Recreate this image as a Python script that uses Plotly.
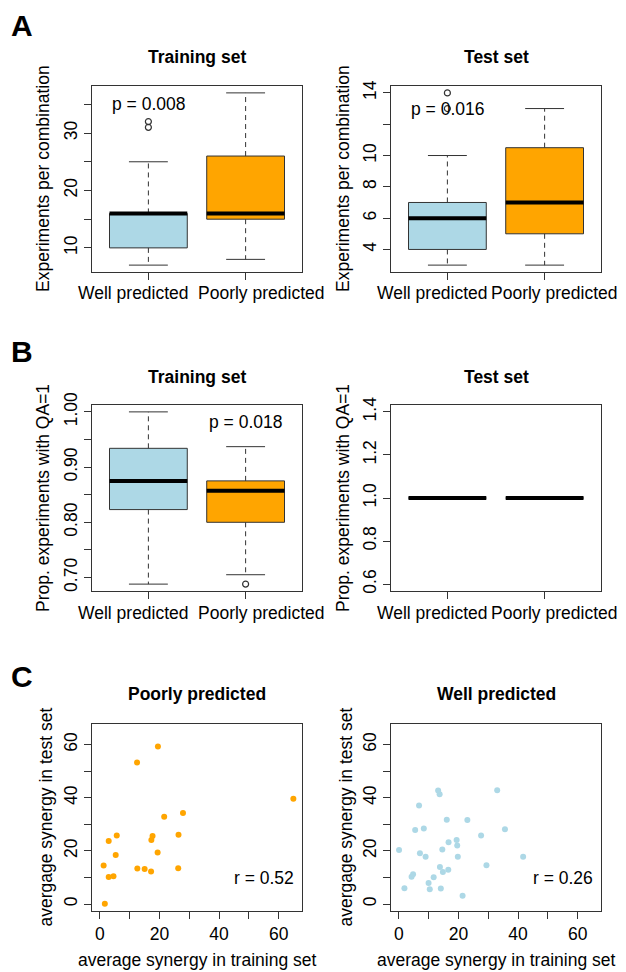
import numpy as np
import plotly.graph_objects as go

FONT = "Liberation Sans, Arial, Helvetica, sans-serif"
W, H = 626, 972
OFF = 8  # default page body margin: page pixel = figure pixel + OFF
FS = 17.5
LINE = "#333333"

# ---------------- data ----------------
groups = ["Well predicted", "Poorly predicted"]
box_colors = ["#ADD8E6", "#FFA500"]

# Panel A, training set: experiments per combination
a_train_lower = [7, 8]
a_train_q1 = [10, 15]
a_train_median = [16, 16]
a_train_q3 = [16, 26]
a_train_upper = [25, 37]
a_train_outliers = [[31, 32], []]

# Panel A, test set
a_test_lower = [3, 3]
a_test_q1 = [4, 5]
a_test_median = [6, 7]
a_test_q3 = [7, 10.5]
a_test_upper = [10, 13]
a_test_outliers = [[13, 14], []]

# Panel B, training set: proportion of experiments with QA=1
b_train_lower = [0.688, 0.705]
b_train_q1 = [0.823, 0.800]
b_train_median = [0.875, 0.857]
b_train_q3 = [0.934, 0.875]
b_train_upper = [1.000, 0.937]
b_train_outliers = [[], [0.688]]

# Panel B, test set
b_test_lower = [1.0, 1.0]
b_test_q1 = [1.0, 1.0]
b_test_median = [1.0, 1.0]
b_test_q3 = [1.0, 1.0]
b_test_upper = [1.0, 1.0]
b_test_outliers = [[], []]

# Panel C: average synergy, poorly predicted
poor_train_syn = [19.5, 12.5, 64.9, 27.9, 21.6, 5.7, 3.0, 17.7, 17.3, 26.4,
                  5.35, 19.4, 1.3, 12.6, 15.05, 17.2, 26.3, 3.0, 4.6, 1.7]
poor_test_syn = [59.3, 53.3, 39.7, 34.3, 32.9, 25.8, 23.8, 25.6, 24.1, 26.1,
                 18.5, 19.4, 14.5, 13.4, 13.2, 12.3, 13.5, 10.2, 10.5, 0.1]

# Panel C: average synergy, well predicted
well_train_syn = [0.1, 1.9, 4.3, 4.8, 5.5, 6.8, 7.1, 8.4, 9.0, 10.0,
                  10.4, 11.7, 13.2, 13.7, 13.8, 14.1, 14.6, 14.8, 16.1, 16.7,
                  16.6, 19.4, 19.6, 19.8, 21.4, 23.0, 27.6, 29.4, 33.0, 35.6, 41.7]
well_test_syn = [20.4, 6.0, 10.3, 11.2, 27.9, 37.1, 19.1, 28.5, 17.8, 7.9,
                 5.6, 10.1, 42.8, 41.4, 14.0, 5.9, 20.6, 12.1, 31.8, 23.3,
                 12.9, 24.1, 22.1, 17.8, 3.1, 31.7, 25.8, 14.6, 42.9, 28.2, 17.8]

p_texts = ["p = 0.008", "p = 0.016", "p = 0.018"]
r_texts = ["r = 0.52", "r = 0.26"]

# ---------------- layout helpers (page pixel -> paper) ----------------
cols = [(92, 302), (391, 601)]
rows = [(86, 272), (405, 591), (724, 911)]


def fx(px):
    return (px - OFF) / W


def fy(py):
    return 1 - (py - OFF) / H


def dx(a, b):
    return [fx(a), fx(b)]


def dy(top, bottom):
    return [fy(bottom), fy(top)]


def r_range(lo, hi):
    if hi == lo:
        lo, hi = lo - 0.4 * abs(lo), hi + 0.4 * abs(hi)
    ext = (hi - lo) * 0.04
    return [lo - ext, hi + ext]


fig = go.Figure()


def axname(k):
    return ("x" if k == 1 else f"x{k}"), ("y" if k == 1 else f"y{k}")


def add_boxes(k, lower, q1, med, q3, upper, outliers):
    xa, ya = axname(k)
    pos = np.arange(1, len(groups) + 1)
    q1a, q3a = np.array(q1, float), np.array(q3, float)
    fig.add_trace(go.Bar(x=pos, y=q3a - q1a, base=q1a, width=0.8,
                         marker=dict(color=box_colors, line=dict(color=LINE, width=1)),
                         xaxis=xa, yaxis=ya, showlegend=False, hoverinfo="skip"))
    for i, p in enumerate(pos):
        fig.add_trace(go.Scatter(x=[p, p, None, p, p], y=[q3[i], upper[i], None, q1[i], lower[i]],
                                 mode="lines", line=dict(color=LINE, width=1, dash="5px,4px"),
                                 xaxis=xa, yaxis=ya, showlegend=False, hoverinfo="skip"))
        fig.add_trace(go.Scatter(x=[p - 0.2, p + 0.2, None, p - 0.2, p + 0.2],
                                 y=[upper[i], upper[i], None, lower[i], lower[i]],
                                 mode="lines", line=dict(color=LINE, width=1),
                                 xaxis=xa, yaxis=ya, showlegend=False, hoverinfo="skip"))
        fig.add_trace(go.Scatter(x=[p - 0.4, p + 0.4], y=[med[i], med[i]],
                                 mode="lines", line=dict(color="black", width=4),
                                 xaxis=xa, yaxis=ya, showlegend=False, hoverinfo="skip"))
        if outliers[i]:
            fig.add_trace(go.Scatter(x=[p] * len(outliers[i]), y=outliers[i], mode="markers",
                                     marker=dict(symbol="circle-open", size=6,
                                                 color=LINE, line=dict(width=1.2)),
                                     xaxis=xa, yaxis=ya, showlegend=False, hoverinfo="skip"))


def all_vals(lower, upper, outliers):
    v = list(lower) + list(upper)
    for o in outliers:
        v += list(o)
    return min(v), max(v)


add_boxes(1, a_train_lower, a_train_q1, a_train_median, a_train_q3, a_train_upper, a_train_outliers)
add_boxes(2, a_test_lower, a_test_q1, a_test_median, a_test_q3, a_test_upper, a_test_outliers)
add_boxes(3, b_train_lower, b_train_q1, b_train_median, b_train_q3, b_train_upper, b_train_outliers)
add_boxes(4, b_test_lower, b_test_q1, b_test_median, b_test_q3, b_test_upper, b_test_outliers)

fig.add_trace(go.Scatter(x=poor_train_syn, y=poor_test_syn, mode="markers",
                         marker=dict(color="#FFA500", size=6), xaxis="x5", yaxis="y5",
                         showlegend=False))
fig.add_trace(go.Scatter(x=well_train_syn, y=well_test_syn, mode="markers",
                         marker=dict(color="#ADD8E6", size=6), xaxis="x6", yaxis="y6",
                         showlegend=False))

tickfont = dict(family=FONT, size=FS, color="black")
common = dict(showline=True, mirror=True, linecolor=LINE, linewidth=1, ticks="outside",
              ticklen=7, tickcolor=LINE, tickfont=tickfont, showgrid=False,
              zeroline=False, fixedrange=True, automargin=False)

box_x = dict(range=r_range(0.5, 2.5), tickmode="array", tickvals=[1, 2],
             showticklabels=False, **common)
c_ticks = [0, 10, 20, 30, 40, 50, 60]
c_text = ["0", "", "20", "", "40", "", "60"]
c_range = [-2.6, 67.8]

yconf = {
    1: dict(range=r_range(*all_vals(a_train_lower, a_train_upper, a_train_outliers)),
            tickvals=[10, 15, 20, 25, 30, 35], ticktext=["10", "", "20", "", "30", ""]),
    2: dict(range=r_range(*all_vals(a_test_lower, a_test_upper, a_test_outliers)),
            tickvals=[4, 6, 8, 10, 12, 14], ticktext=["4", "6", "8", "10", "", "14"]),
    3: dict(range=r_range(*all_vals(b_train_lower, b_train_upper, b_train_outliers)),
            tickvals=[0.70, 0.75, 0.80, 0.85, 0.90, 0.95, 1.00],
            ticktext=["0.70", "", "0.80", "", "0.90", "", "1.00"]),
    4: dict(range=r_range(*all_vals(b_test_lower, b_test_upper, b_test_outliers)),
            tickvals=[0.6, 0.8, 1.0, 1.2, 1.4], ticktext=["0.6", "0.8", "1.0", "1.2", "1.4"]),
    5: dict(range=c_range, tickvals=c_ticks, ticktext=c_text),
    6: dict(range=c_range, tickvals=c_ticks, ticktext=c_text),
}

layout = dict(width=W, height=H, margin=dict(l=0, r=0, t=0, b=0), autosize=False,
              paper_bgcolor="white", plot_bgcolor="white", showlegend=False,
              font=dict(family=FONT, size=FS, color="black"), barmode="overlay")

for k in range(1, 7):
    r = (k - 1) // 2
    c = (k - 1) % 2
    xkey = "xaxis" if k == 1 else f"xaxis{k}"
    ykey = "yaxis" if k == 1 else f"yaxis{k}"
    xa, ya = axname(k)
    if k <= 4:
        xd = dict(box_x)
    else:
        xd = dict(range=c_range, tickmode="array", tickvals=c_ticks, ticktext=c_text,
                  tickangle=0, **common)
    xd.update(domain=dx(*cols[c]), anchor=ya)
    yd = dict(tickmode="array", tickangle=-90, **common)
    yd.update(yconf[k])
    yd.update(domain=dy(*rows[r]), anchor=xa)
    layout[xkey] = xd
    layout[ykey] = yd

fig.update_layout(**layout)

ann = []


def pann(text, px, py, size=FS, angle=0, bold=False):
    ann.append(dict(text=f"<b>{text}</b>" if bold else text, x=fx(px), y=fy(py),
                    xref="paper", yref="paper", showarrow=False, textangle=angle,
                    xanchor="center", yanchor="middle",
                    font=dict(family=FONT, size=size, color="black")))


# panel letters
pann("A", 21.5, 26, size=30, bold=True)
pann("B", 21.5, 351.5, size=30, bold=True)
pann("C", 21.5, 676, size=30, bold=True)

# subplot titles
titles = [["Training set", "Test set"], ["Training set", "Test set"],
          ["Poorly predicted", "Well predicted"]]
title_y = [57, 376.7, 694.3]
for r in range(3):
    for c in range(2):
        pann(titles[r][c], (cols[c][0] + cols[c][1]) / 2, title_y[r], bold=True)

# y-axis titles
ytitles = ["Experiments per combination", "Prop. experiments with QA=1",
           "avergage synergy in test set"]
for r in range(3):
    for c in range(2):
        xpos = (43 if c == 0 else 343) + (2 if r == 2 else 0)
        pann(ytitles[r], xpos, (rows[r][0] + rows[r][1]) / 2, angle=-90)

# x-axis titles for panel C
for c in range(2):
    pann("average synergy in training set", (cols[c][0] + cols[c][1]) / 2, 960)

# category labels under the box plots (offset like the original)
label_y = [292.7, 612.7]
for k in range(1, 5):
    xa, ya = axname(k)
    r = (k - 1) // 2
    right_panel = (k % 2 == 0)
    shifts = [-15, 9 if right_panel else 15]
    for i, g in enumerate(groups):
        ann.append(dict(text=g, x=i + 1, y=fy(label_y[r]), xref=xa, yref="paper",
                        xshift=shifts[i], showarrow=False, xanchor="center",
                        yanchor="middle", font=dict(family=FONT, size=FS, color="black")))

# statistics text in data coordinates
stat_pos = [(1, 35), (1, 13), (2, 0.982)]
for k, (t, (sx, sy)) in enumerate(zip(p_texts, stat_pos), start=1):
    xa, ya = axname(k)
    ann.append(dict(text=t, x=sx, y=sy, xref=xa, yref=ya, showarrow=False,
                    xanchor="center", yanchor="middle",
                    font=dict(family=FONT, size=FS, color="black")))
for k, t in zip([5, 6], r_texts):
    xa, ya = axname(k)
    ann.append(dict(text=t, x=55, y=10, xref=xa, yref=ya, showarrow=False,
                    xanchor="center", yanchor="middle",
                    font=dict(family=FONT, size=FS, color="black")))

fig.update_layout(annotations=ann)
fig.write_html("out.html")
